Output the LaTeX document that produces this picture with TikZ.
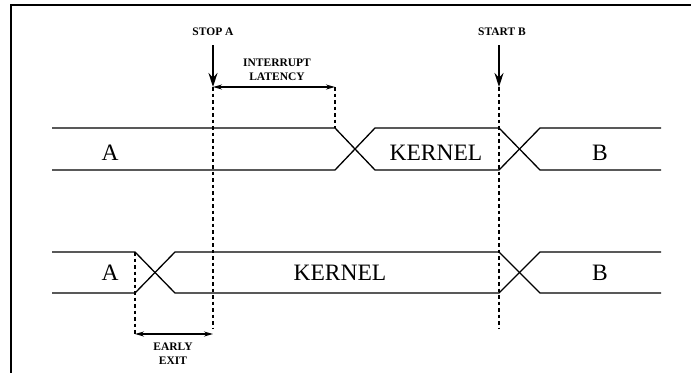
\documentclass[tikz,border=0pt]{standalone}
\usepackage{fontspec}
\setmainfont{Liberation Serif}
\usetikzlibrary{arrows.meta}
\begin{document}
\begin{tikzpicture}[x=1pt,y=-1pt,
  wave/.style={line width=1.3pt},
  guide/.style={line width=1.3pt,dash pattern=on 3.5pt off 3pt},
  bigtxt/.style={font=\fontsize{23.5}{26}\selectfont,inner sep=0pt},
  smalltxt/.style={font=\fontsize{11.5}{13}\bfseries\selectfont,inner sep=0pt,align=center},
  evarrow/.style={line width=1.3pt,-{Stealth[length=14pt,width=9pt]}},
  span/.style={line width=1.3pt,{Stealth[length=9pt,width=5pt]}-{Stealth[length=9pt,width=5pt]}}]
\useasboundingbox (0,0) rectangle (691,373);
% frame
\draw[line width=1.6pt] (691,5) -- (11,5) -- (11,373);
% top waveform
\draw[wave] (52,128) -- (335,128) -- (375,170) -- (499,170) -- (540,128) -- (661,128);
\draw[wave] (52,170) -- (335,170) -- (375,128) -- (499,128) -- (540,170) -- (661,170);
% bottom waveform
\draw[wave] (52,252) -- (135,252) -- (175,293) -- (499,293) -- (540,252) -- (661,252);
\draw[wave] (52,293) -- (135,293) -- (175,252) -- (499,252) -- (540,293) -- (661,293);
% labels in waveforms
\node[bigtxt] (a1) at (110,153) {A};
\node[bigtxt] (k1) at (436,153) {KERNEL};
\node[bigtxt] (b1) at (600,153) {B};
\node[bigtxt] (a2) at (110,273) {A};
\node[bigtxt] (k2) at (340,273) {KERNEL};
\node[bigtxt] (b2) at (600,273) {B};
% event labels
\node[smalltxt] (stopa) at (213,32) {STOP A};
\node[smalltxt] (startb) at (502,32) {START B};
\node[smalltxt] (lat) at (277,70) {INTERRUPT\\[1pt]LATENCY};
\node[smalltxt] (early) at (173,354) {EARLY\\[1pt]EXIT};
% coordinates
\coordinate (sa0) at (213,45);
\coordinate (sa1) at (213,87);
\coordinate (sa2) at (213,328);
\coordinate (sb0) at (499,45);
\coordinate (sb1) at (499,87);
\coordinate (sb2) at (499,328);
\coordinate (l1) at (335,87);
\coordinate (l2) at (335,128);
\coordinate (e0) at (135,252);
\coordinate (e1) at (135,334);
\coordinate (e2) at (213,334);
% event arrows
\draw[evarrow] (sa0) -- (sa1);
\draw[evarrow] (sb0) -- (sb1);
% guides
\draw[guide] (sa1) -- (sa2);
\draw[guide] (sb1) -- (sb2);
\draw[guide] (l1) -- (l2);
\draw[guide] (e0) -- (e1);
% spans
\draw[span] (sa1) -- (l1);
\draw[span] (e1) -- (e2);
\end{tikzpicture}
\end{document}
